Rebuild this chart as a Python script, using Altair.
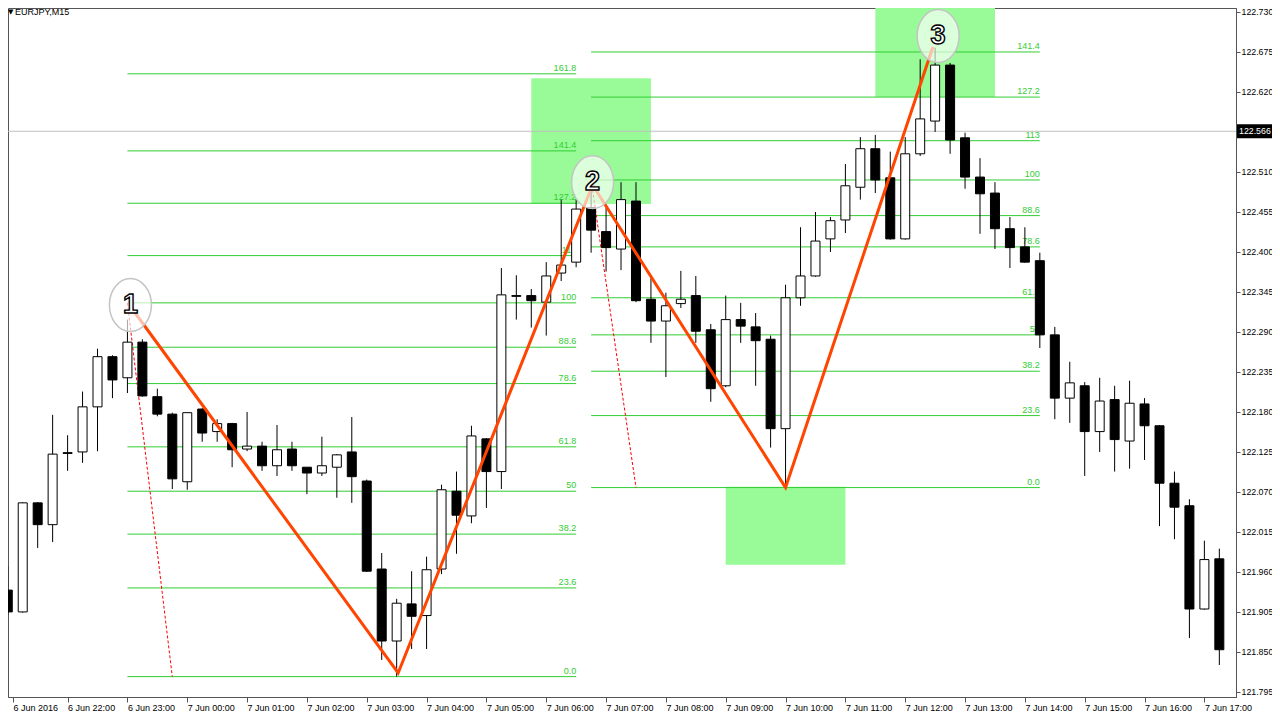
import altair as alt
import pandas as pd

# ---------------- data ----------------
opens = [121.935, 121.905, 122.055, 122.025, 122.124, 122.125, 122.187, 122.256, 122.227, 122.276,
         122.201, 122.177, 122.084, 122.184, 122.153, 122.164, 122.129, 122.133, 122.106, 122.129,
         122.104, 122.096, 122.104, 122.125, 122.085, 121.964, 121.865, 121.916, 121.900, 121.964,
         122.071, 122.037, 122.143, 122.098, 122.340, 122.340, 122.331, 122.371, 122.386, 122.461,
         122.428, 122.404, 122.470, 122.335, 122.305, 122.329, 122.340, 122.293, 122.216, 122.307,
         122.297, 122.280, 122.157, 122.337, 122.367, 122.418, 122.444, 122.489, 122.542, 122.502,
         122.418, 122.535, 122.580, 122.657, 122.557, 122.503, 122.481, 122.432, 122.407, 122.388,
         122.286, 122.199, 122.216, 122.153, 122.197, 122.140, 122.191, 122.161, 122.082, 122.051,
         121.909, 121.978]
highs = [121.968, 122.056, 122.056, 122.176, 122.148, 122.208, 122.267, 122.258, 122.307, 122.280,
         122.212, 122.179, 122.179, 122.185, 122.170, 122.165, 122.180, 122.139, 122.162, 122.139,
         122.104, 122.146, 122.122, 122.173, 122.087, 121.986, 121.923, 121.961, 121.981, 122.080,
         122.098, 122.161, 122.144, 122.378, 122.368, 122.349, 122.386, 122.472, 122.472, 122.492,
         122.461, 122.496, 122.496, 122.364, 122.344, 122.374, 122.367, 122.301, 122.340, 122.330,
         122.316, 122.285, 122.355, 122.434, 122.455, 122.448, 122.521, 122.558, 122.561, 122.538,
         122.558, 122.665, 122.681, 122.660, 122.564, 122.529, 122.496, 122.448, 122.434, 122.399,
         122.297, 122.249, 122.221, 122.227, 122.216, 122.223, 122.199, 122.162, 122.098, 122.060,
         122.003, 121.992]
lows = [121.901, 121.904, 121.993, 122.001, 122.099, 122.110, 122.126, 122.199, 122.206, 122.201,
        122.174, 122.074, 122.073, 122.139, 122.139, 122.104, 122.126, 122.099, 122.092, 122.099,
        122.067, 122.092, 122.062, 122.055, 121.960, 121.839, 121.816, 121.854, 121.854, 121.957,
        121.985, 122.027, 122.048, 122.074, 122.307, 122.296, 122.285, 122.360, 122.379, 122.399,
        122.373, 122.375, 122.331, 122.275, 122.228, 122.323, 122.275, 122.194, 122.214, 122.275,
        122.216, 122.131, 122.076, 122.326, 122.366, 122.400, 122.426, 122.472, 122.481, 122.417,
        122.417, 122.532, 122.565, 122.535, 122.487, 122.425, 122.404, 122.378, 122.385, 122.268,
        122.170, 122.165, 122.092, 122.125, 122.098, 122.102, 122.114, 122.023, 122.005, 121.869,
        121.908, 121.832]
closes = [121.905, 122.055, 122.025, 122.122, 122.123, 122.187, 122.256, 122.224, 122.276, 122.202,
          122.177, 122.088, 122.179, 122.151, 122.164, 122.128, 122.133, 122.106, 122.128, 122.106,
          122.096, 122.106, 122.121, 122.091, 121.961, 121.865, 121.917, 121.899, 121.963, 122.073,
          122.038, 122.147, 122.098, 122.341, 122.339, 122.333, 122.367, 122.382, 122.459, 122.430,
          122.406, 122.472, 122.333, 122.305, 122.326, 122.335, 122.291, 122.212, 122.307, 122.298,
          122.278, 122.157, 122.337, 122.367, 122.415, 122.443, 122.491, 122.542, 122.499, 122.418,
          122.535, 122.583, 122.657, 122.554, 122.503, 122.480, 122.432, 122.406, 122.386, 122.286,
          122.199, 122.220, 122.153, 122.195, 122.142, 122.192, 122.161, 122.082, 122.049, 121.909,
          121.977, 121.853]

# one label every 4 bars (bar 0 = 6 Jun 21:00, M15)
time_labels = ["6 Jun 2016", "6 Jun 22:00", "6 Jun 23:00", "7 Jun 00:00", "7 Jun 01:00",
               "7 Jun 02:00", "7 Jun 03:00", "7 Jun 04:00", "7 Jun 05:00", "7 Jun 06:00",
               "7 Jun 07:00", "7 Jun 08:00", "7 Jun 09:00", "7 Jun 10:00", "7 Jun 11:00",
               "7 Jun 12:00", "7 Jun 13:00", "7 Jun 14:00", "7 Jun 15:00", "7 Jun 16:00",
               "7 Jun 17:00"]
price_ticks = [122.730, 122.675, 122.620, 122.510, 122.455, 122.400, 122.345, 122.290, 122.235,
               122.180, 122.125, 122.070, 122.015, 121.960, 121.905, 121.850, 121.795]

fib1_labels = ["0.0", "23.6", "38.2", "50", "61.8", "78.6", "88.6", "100", "113", "127.2", "141.4", "161.8"]
fib1_prices = [121.816, 121.938, 122.012, 122.071, 122.132, 122.219, 122.269, 122.330, 122.395,
               122.467, 122.539, 122.645]
fib1_span = [8, 38]
fib2_labels = ["0.0", "23.6", "38.2", "50", "61.8", "78.6", "88.6", "100", "113", "127.2", "141.4"]
fib2_prices = [122.076, 122.175, 122.236, 122.286, 122.337, 122.407, 122.450, 122.499, 122.553,
               122.613, 122.675]
fib2_span = [39, 69]

trend_x1 = [8, 39]
trend_p1 = [122.330, 122.499]
trend_x2 = [11, 42]
trend_p2 = [121.816, 122.076]

zigzag_x = [8.2, 26.1, 39.1, 52.0, 61.85]
zigzag_p = [122.325, 121.821, 122.492, 122.076, 122.682]

zone_x1 = [35, 48, 58]
zone_x2 = [43, 56, 66]
zone_p1 = [122.639, 122.077, 122.742]
zone_p2 = [122.466, 121.970, 122.613]

point_x = [8.2, 39.1, 62.2]
point_p = [122.327, 122.496, 122.697]
point_text = ["1", "2", "3"]

bid_price = 122.566
bid_label = "122.566"
symbol_title = "EURJPY,M15"

# ---------------- tables ----------------
candles = pd.DataFrame({"i": list(range(len(opens))), "o": opens, "h": highs, "l": lows, "c": closes})
fib = pd.DataFrame({
    "x1": [fib1_span[0]] * len(fib1_prices) + [fib2_span[0]] * len(fib2_prices),
    "x2": [fib1_span[1]] * len(fib1_prices) + [fib2_span[1]] * len(fib2_prices),
    "p": fib1_prices + fib2_prices,
    "lab": fib1_labels + fib2_labels,
})
trend = pd.DataFrame({"x1": trend_x1, "p1": trend_p1, "x2": trend_x2, "p2": trend_p2})
zig = pd.DataFrame({"x": zigzag_x, "p": zigzag_p, "k": list(range(len(zigzag_x)))})
zones = pd.DataFrame({"x1": zone_x1, "x2": zone_x2, "p1": zone_p1, "p2": zone_p2})
points = pd.DataFrame({"x": point_x, "p": point_p, "t": point_text})
bid = pd.DataFrame({"p": [bid_price], "lab": [bid_label]})
title_df = pd.DataFrame({"t": [symbol_title], "a": ["\u25bc"]})

# ---------------- scales / axes ----------------
W, H = 1228, 689
x_domain = [0.35, 81.78]
y_domain = [121.788, 122.7355]
FONT = "Liberation Sans"
AX = "#555555"

xscale = alt.Scale(domain=x_domain, nice=False, zero=False)
yscale = alt.Scale(domain=y_domain, nice=False, zero=False)
label_arr = "[" + ",".join("'" + s + "'" for s in time_labels) + "]"
xaxis = alt.Axis(values=[x_domain[0]] + list(range(4, 81, 4)),
                 labelExpr=label_arr + "[round(datum.value/4)]",
                 orient="bottom", title=None, grid=False, tickSize=5, tickColor=AX,
                 domainColor=AX, labelAlign="left", labelBaseline="top", labelPadding=1,
                 labelFont=FONT, labelFontSize=9, labelColor="black", labelOverlap=False,
                 labelFlush=False, labelBound=False)
yaxis = alt.Axis(values=price_ticks, format=".3f", orient="right", title=None, grid=False,
                 tickSize=4, tickColor=AX, domainColor=AX, labelPadding=1, labelFont=FONT,
                 labelFontSize=8.8, labelColor="black", labelOverlap=False, labelFlush=False,
                 labelBound=False)


def X(f):
    return alt.X(f, type="quantitative", scale=xscale, axis=xaxis)


def Y(f):
    return alt.Y(f, type="quantitative", scale=yscale, axis=yaxis)


# ---------------- layers ----------------
zone_layer = alt.Chart(zones).mark_rect(color="#98FB98", clip=True).encode(
    x=X("x1"), x2="x2", y=Y("p1"), y2="p2")

fib_lines = alt.Chart(fib).mark_rule(color="#32CD32", strokeWidth=1, clip=True).encode(
    x=X("x1"), x2="x2", y=Y("p"))
fib_text = alt.Chart(fib).mark_text(align="right", baseline="bottom", dy=-1, font=FONT,
                                    fontSize=9, color="#32CD32").encode(
    x=X("x2"), y=Y("p"), text="lab:N")

trend_layer = alt.Chart(trend).mark_rule(color="#FF0000", strokeWidth=1, strokeDash=[3, 2],
                                         clip=True).encode(
    x=X("x1"), y=Y("p1"), x2="x2", y2="p2")

bid_line = alt.Chart(bid).mark_rule(color="#C0C0C0", strokeWidth=1).encode(y=Y("p"))

wicks = alt.Chart(candles).mark_rule(color="black", strokeWidth=1, clip=True).encode(
    x=X("i"), y=Y("l"), y2="h")
bodies = alt.Chart(candles).mark_bar(size=9, stroke="black", strokeWidth=1, clip=True).encode(
    x=X("i"), y=Y("o"), y2="c",
    fill=alt.condition("datum.c >= datum.o", alt.value("white"), alt.value("black")))

zig_layer = alt.Chart(zig).mark_line(color="#FF4500", strokeWidth=3, clip=True).encode(
    x=X("x"), y=Y("p"), order="k:Q")

ellipse = ("M1,0C1,0.696,0.5523,1.26,0,1.26C-0.5523,1.26,-1,0.696,-1,0"
           "C-1,-0.696,-0.5523,-1.26,0,-1.26C0.5523,-1.26,1,-0.696,1,0Z")
circles = alt.Chart(points).mark_point(shape=ellipse, size=1764, filled=True, fill="white",
                                       fillOpacity=0.65, stroke="#C4C4C4", strokeWidth=1.5,
                                       strokeOpacity=1, opacity=1, clip=True).encode(
    x=X("x"), y=Y("p"))
numbers = alt.Chart(points).mark_text(font="Liberation Sans Narrow, Liberation Sans",
                                      fontSize=27, fontWeight="bold", fill="white",
                                      stroke="black", strokeWidth=1.4, align="center",
                                      baseline="middle").encode(
    x=X("x"), y=Y("p"), text="t:N")

bid_box = alt.Chart(bid).transform_calculate(
    top="datum.p + 0.0096", bot="datum.p - 0.0096").mark_rect(color="black").encode(
    x=alt.value(W + 1), x2=alt.value(W + 36), y=Y("top:Q"), y2="bot:Q")
bid_text = alt.Chart(bid).mark_text(align="left", baseline="middle", font=FONT, fontSize=8.8,
                                    color="white").encode(
    x=alt.value(W + 3), y=Y("p"), text="lab:N")

title_arrow = alt.Chart(title_df).mark_text(align="left", baseline="middle", font="DejaVu Sans",
                                            fontSize=7, color="black").encode(
    x=alt.value(0), y=alt.value(4), text="a:N")
title_text = alt.Chart(title_df).mark_text(align="left", baseline="middle", font=FONT,
                                           fontSize=9, color="black").encode(
    x=alt.value(7), y=alt.value(4), text="t:N")

chart = alt.layer(
    zone_layer, fib_lines, fib_text, trend_layer, bid_line, wicks, bodies, zig_layer,
    circles, numbers, bid_box, bid_text, title_arrow, title_text
).properties(
    width=W, height=H,
    autosize=alt.AutoSizeParams(type="none"),
    padding={"left": 0, "top": 0, "right": 36, "bottom": 15},
    background="white",
).configure_view(stroke="#555555", strokeWidth=1)

chart.save("out.html", embed_options={"renderer": "svg", "actions": False})
